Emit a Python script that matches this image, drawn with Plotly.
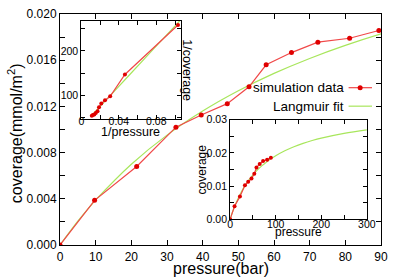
import plotly.graph_objects as go

# ---- data ----
pressure = [0, 9.7, 21.5, 32.5, 39.6, 46.9, 53.0, 57.8, 64.9, 72.3, 81.2, 89.4]
coverage = [0, 0.00387, 0.0068, 0.0102, 0.01126, 0.01224, 0.0137, 0.0156, 0.01666, 0.01756, 0.0179, 0.01857]

fit_pressure = [0, 5, 9, 10, 20, 30, 40, 50, 60, 70, 80, 90, 100, 120, 140, 160, 180, 200, 250, 300]
fit_coverage = [0, 0.002069, 0.003551, 0.00390, 0.006995, 0.009512, 0.011597, 0.013355, 0.014855,
                0.016151, 0.017282, 0.018278, 0.019161, 0.020658, 0.021879, 0.022894, 0.023750,
                0.024483, 0.025924, 0.026982]

# reciprocal (Langmuir linearisation) for the upper inset
inv_p = [1 / p for p in pressure[1:]]
inv_c = [1 / c for c in coverage[1:]]
fit_sel = [(p, c) for p, c in zip(fit_pressure, fit_coverage) if 0 < p <= 90]
fit_inv_p = [1 / p for p, c in fit_sel]
fit_inv_c = [1 / c for p, c in fit_sel]

FONT = "Liberation Sans, Arial, Helvetica, sans-serif"
RED_LINE = "#f04848"
RED_MARK = "#e00000"
GREEN = "#a8e65c"

fig = go.Figure()

def add_pair(xf, yf, xd, yd, xa, ya, msize):
    fig.add_trace(go.Scatter(x=xf, y=yf, mode="lines", line=dict(color=GREEN, width=1.2, shape="spline"),
                             xaxis=xa, yaxis=ya, showlegend=False, hoverinfo="skip"))
    fig.add_trace(go.Scatter(x=xd, y=yd, mode="lines+markers", line=dict(color=RED_LINE, width=1.2),
                             marker=dict(color=RED_MARK, size=msize), xaxis=xa, yaxis=ya,
                             showlegend=False, hoverinfo="skip"))

add_pair(fit_pressure, fit_coverage, pressure, coverage, "x", "y", 5)
add_pair(fit_inv_p, fit_inv_c, inv_p, inv_c, "x2", "y2", 4)
add_pair(fit_pressure, fit_coverage, pressure, coverage, "x3", "y3", 4)

def axis(**kw):
    base = dict(showline=True, linecolor="black", linewidth=1, mirror="ticks", ticks="inside",
                ticklen=5, tickcolor="black", showgrid=False, zeroline=False,
                tickfont=dict(size=12, color="black", family=FONT))
    base.update(kw)
    return base

small = dict(size=10.5, color="black", family=FONT)

fig.update_layout(
    width=397, height=279,
    margin=dict(l=60, r=10, t=7, b=34),
    paper_bgcolor="white", plot_bgcolor="white",
    font=dict(family=FONT, color="black"),
    showlegend=False,
    xaxis=axis(domain=[0, 1], range=[0, 90], dtick=10, tick0=0, anchor="y", ticklabelstandoff=1),
    yaxis=axis(domain=[0, 1], range=[0, 0.020], dtick=0.004, tick0=0, tickformat=".3f", anchor="x",
               minor=dict(dtick=0.002, ticks="inside", ticklen=5, tickcolor="black")),
    xaxis2=axis(domain=[0.0664, 0.376], range=[0, 0.106], dtick=0.04, tick0=0, anchor="y2",
                ticklen=4, tickfont=small, ticklabelstandoff=-7,
                minor=dict(dtick=0.02, ticks="inside", ticklen=4, tickcolor="black")),
    yaxis2=axis(domain=[0.546, 0.9706], range=[47, 268], dtick=100, tick0=0, anchor="x2",
                ticklen=4, tickfont=small, minor=dict(dtick=50, ticks="inside", ticklen=4, tickcolor="black")),
    xaxis3=axis(domain=[0.530, 0.956], range=[0, 300], dtick=100, tick0=0, anchor="y3",
                ticklen=4, tickfont=small, ticklabelstandoff=-5,
                minor=dict(dtick=50, ticks="inside", ticklen=4, tickcolor="black")),
    yaxis3=axis(domain=[0.112, 0.542], range=[0, 0.03], dtick=0.01, tick0=0, tickformat=".2f", anchor="x3",
                ticklen=4, tickfont=small, minor=dict(dtick=0.005, ticks="inside", ticklen=4, tickcolor="black")),
)

def note(text, x, y, size, angle=0, xanchor="center"):
    fig.add_annotation(text=text, x=x, y=y, xref="paper", yref="paper", showarrow=False,
                       textangle=angle, xanchor=xanchor, yanchor="middle",
                       font=dict(size=size, color="black", family=FONT))

# axis titles
note("pressure(bar)", 0.5, -0.1, 16)
note("coverage(mmol/m<sup>2</sup>)", -0.138, 0.483, 16, angle=-90)
note("1/pressure", 0.220, 0.488, 12.5)
note("1/coverage", 0.393, 0.756, 12.5, angle=90)
note("pressure", 0.743, 0.058, 12)
note("coverage", 0.443, 0.328, 12, angle=-90)

# key (text on the left, sample on the right)
note("simulation data", 0.892, 0.681, 13.5, xanchor="right")
note("Langmuir fit", 0.892, 0.601, 13.5, xanchor="right")
fig.add_shape(type="line", xref="paper", yref="paper", x0=0.899, x1=0.972, y0=0.681, y1=0.681,
              line=dict(color=RED_LINE, width=1.2))
fig.add_shape(type="circle", xref="paper", yref="paper", xsizemode="pixel", ysizemode="pixel",
              xanchor=0.935, yanchor=0.681, x0=-2.5, x1=2.5, y0=-2.5, y1=2.5,
              fillcolor=RED_MARK, line=dict(color=RED_MARK, width=0))
fig.add_shape(type="line", xref="paper", yref="paper", x0=0.899, x1=0.972, y0=0.601, y1=0.601,
              line=dict(color=GREEN, width=1.2))

fig.write_html("out.html", config={"displayModeBar": False},
               post_script="document.body.style.margin='0';document.body.style.overflow='hidden';")
